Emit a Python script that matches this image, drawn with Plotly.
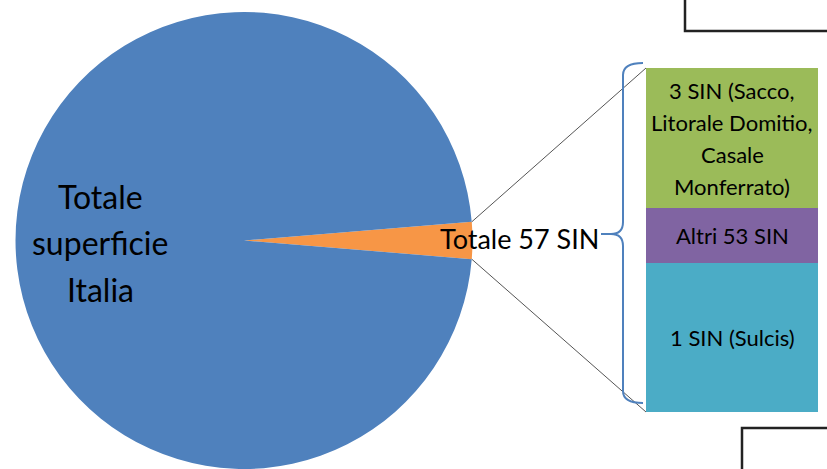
import math
import plotly.graph_objects as go

W, H = 827, 469

# ---- data ----
pie_labels = ["Totale 57 SIN", "Totale superficie Italia"]
pie_values = [2.6, 97.4]
pie_colors = ["#F79646", "#4F81BD"]

bar_labels = ["1 SIN (Sulcis)", "Altri 53 SIN", "3 SIN (Sacco,<br>Litorale Domitio,<br>Casale<br>Monferrato)"]
bar_values = [43.3, 16.0, 40.7]
bar_colors = ["#4BACC6", "#8064A2", "#9BBB59"]


def fx(x):
    return x / W


def fy(y):
    return 1 - y / H


FONT = "Lato"

# pie geometry (pixels)
cx, cy, r = 244, 240.5, 228.5
bar_x0, bar_x1, bar_top, bar_bot = 646, 818, 68, 412

slice_deg = pie_values[0] / sum(pie_values) * 360
rotation = 90 - slice_deg / 2

fig = go.Figure()
fig.add_trace(go.Pie(
    labels=pie_labels, values=pie_values, sort=False, direction="clockwise",
    rotation=rotation, marker=dict(colors=pie_colors, line=dict(width=0)),
    textinfo="none", hoverinfo="label+value", showlegend=False,
    domain=dict(x=[fx(cx - r), fx(cx + r)], y=[fy(cy + r), fy(cy - r)]),
))

for lab, val, col in zip(bar_labels, bar_values, bar_colors):
    fig.add_trace(go.Bar(
        x=[0], y=[val], name=lab, marker=dict(color=col, line=dict(width=0)),
        width=1, xaxis="x2", yaxis="y2", showlegend=False, hoverinfo="name+y",
    ))

fig.update_layout(
    width=W, height=H, margin=dict(l=0, r=0, t=0, b=0),
    paper_bgcolor="white", plot_bgcolor="rgba(0,0,0,0)",
    barmode="stack", bargap=0,
    xaxis2=dict(domain=[fx(bar_x0), fx(bar_x1)], range=[-0.5, 0.5], visible=False, fixedrange=True),
    yaxis2=dict(domain=[fy(bar_bot), fy(bar_top)], range=[0, sum(bar_values)], visible=False,
                fixedrange=True, anchor="x2"),
    font=dict(family=FONT, color="#000"),
)

annotations = []


def multiline(lines, xpos, ycenter, spacing, size):
    n = len(lines)
    for i, t in enumerate(lines):
        yy = ycenter + (i - (n - 1) / 2) * spacing
        annotations.append(dict(
            text=t, x=xpos, y=fy(yy), xref="paper", yref="paper", showarrow=False,
            font=dict(size=size, family=FONT, color="#000"), xanchor="center", yanchor="middle",
        ))


# pie main label
multiline(["Totale", "superficie", "Italia"], fx(100), 243, 46.5, 32)

# slice label
annotations.append(dict(
    text=pie_labels[0], x=fx(519), y=fy(238), xref="paper", yref="paper", showarrow=False,
    font=dict(size=27, family=FONT, color="#000"), xanchor="center", yanchor="middle",
))

# bar labels (positioned at segment centres via the bar axis)
cum = 0
spacing_frac = 32 / (bar_bot - bar_top) * sum(bar_values)
for lab, val in zip(bar_labels, bar_values):
    mid = cum + val / 2
    cum += val
    lines = lab.split("<br>")
    n = len(lines)
    for i, t in enumerate(lines):
        yy = mid - (i - (n - 1) / 2) * spacing_frac
        annotations.append(dict(
            text=t, x=0, y=yy, xref="x2", yref="y2", showarrow=False,
            font=dict(size=22, family=FONT, color="#000"), xanchor="center", yanchor="middle",
        ))

fig.update_layout(annotations=annotations)

shapes = []
# connector lines from pie edge to bar corners
a = math.radians(slice_deg / 2)
ex = cx + r * math.cos(a)
for sgn, by in ((-1, bar_top), (1, bar_bot)):
    ey = cy + sgn * r * math.sin(a)
    shapes.append(dict(type="line", xref="paper", yref="paper",
                       x0=fx(ex), y0=fy(ey), x1=fx(bar_x0), y1=fy(by),
                       line=dict(color="#555", width=1)))


def P(x, y):
    return f"{fx(x):.5f},{fy(y):.5f}"


brace = (f"M {P(643,63)} Q {P(623,63)} {P(623,75)} L {P(623,222)} "
         f"Q {P(623,234)} {P(611,234)} Q {P(623,234)} {P(623,246)} "
         f"L {P(623,391)} Q {P(623,403)} {P(643,403)}")
shapes.append(dict(type="path", xref="paper", yref="paper", path=brace,
                   line=dict(color="#4F81BD", width=2)))
shapes.append(dict(type="line", xref="paper", yref="paper",
                   x0=fx(601), y0=fy(234), x1=fx(612), y1=fy(234),
                   line=dict(color="#4F81BD", width=2)))

# partial boxes at right edge
shapes.append(dict(type="rect", xref="paper", yref="paper",
                   x0=fx(685), x1=fx(860), y0=fy(31), y1=fy(-20),
                   line=dict(color="#222", width=2.5), fillcolor="rgba(0,0,0,0)"))
shapes.append(dict(type="rect", xref="paper", yref="paper",
                   x0=fx(742), x1=fx(860), y0=fy(428), y1=fy(500),
                   line=dict(color="#222", width=2.5), fillcolor="rgba(0,0,0,0)"))

fig.update_layout(shapes=shapes)

fig.write_html("out.html", config={"displayModeBar": False},
               post_script="document.body.style.margin='0';document.body.style.overflow='hidden';")
